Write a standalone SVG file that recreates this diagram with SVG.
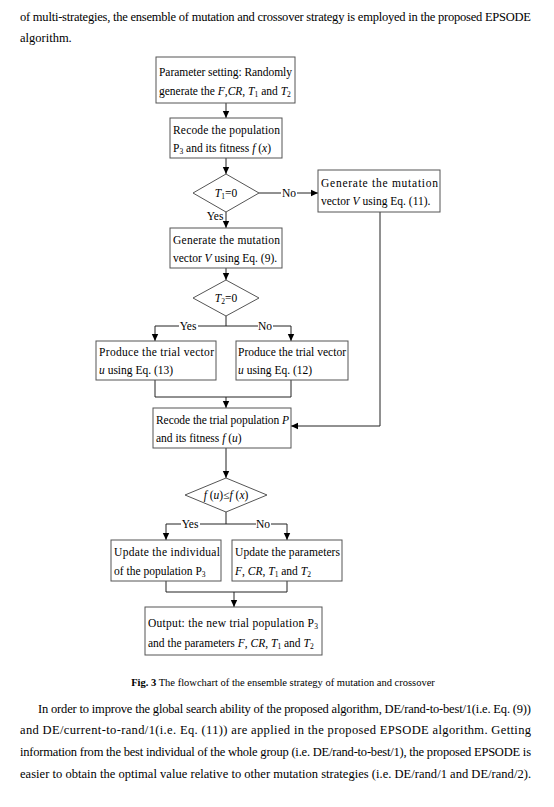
<svg xmlns="http://www.w3.org/2000/svg" width="554" height="807" viewBox="0 0 554 807">
<defs>
<marker id="ah" markerWidth="8" markerHeight="8" refX="7" refY="4" orient="auto" markerUnits="userSpaceOnUse">
<path d="M0,0.8 L7,4 L0,7.2 z" fill="#000"/>
</marker>
<style>
.t{font-family:"Liberation Serif","Times New Roman",serif;font-size:11.5px;fill:#000}
.b{font-family:"Liberation Serif","Times New Roman",serif;font-size:12.5px;fill:#000}
.c{font-family:"Liberation Serif","Times New Roman",serif;font-size:10.5px;fill:#000}
.box{fill:#fff;stroke:#555;stroke-width:1}
.ln{fill:none;stroke:#222;stroke-width:1}
.i{font-style:italic}
.s{font-size:7.5px}
</style>
</defs>
<rect width="554" height="807" fill="#fff"/>

<g id="para-top">
<text class="b" x="20" y="21" textLength="511" lengthAdjust="spacing">of multi-strategies, the ensemble of mutation and crossover strategy is employed in the proposed EPSODE</text>
<text class="b" x="20" y="42">algorithm.</text>
</g>

<g id="connectors">
<line class="ln" x1="226" y1="103" x2="226" y2="118" marker-end="url(#ah)"/>
<line class="ln" x1="226" y1="158" x2="226" y2="174" marker-end="url(#ah)"/>
<polyline class="ln" points="259,193 281,193"/>
<line class="ln" x1="297" y1="193" x2="318" y2="193" marker-end="url(#ah)"/>
<line class="ln" x1="226" y1="212" x2="226" y2="228" marker-end="url(#ah)"/>
<line class="ln" x1="226" y1="268" x2="226" y2="280" marker-end="url(#ah)"/>
<line class="ln" x1="226" y1="316" x2="226" y2="326"/>
<polyline class="ln" points="179,326 155,326 155,341" marker-end="url(#ah)"/>
<line class="ln" x1="198" y1="326" x2="258" y2="326"/>
<polyline class="ln" points="273,326 291,326 291,341" marker-end="url(#ah)"/>
<polyline class="ln" points="155,380 155,397 291,397 291,380"/>
<line class="ln" x1="226" y1="397" x2="226" y2="408" marker-end="url(#ah)"/>
<polyline class="ln" points="380,211 380,426 291,426" marker-end="url(#ah)"/>
<line class="ln" x1="226" y1="448" x2="226" y2="478" marker-end="url(#ah)"/>
<line class="ln" x1="226" y1="512" x2="226" y2="524"/>
<polyline class="ln" points="181,524 166,524 166,540" marker-end="url(#ah)"/>
<line class="ln" x1="200" y1="524" x2="256" y2="524"/>
<polyline class="ln" points="271,524 287,524 287,540" marker-end="url(#ah)"/>
<polyline class="ln" points="166,581 166,592 287,592 287,581"/>
<line class="ln" x1="234" y1="592" x2="234" y2="607" marker-end="url(#ah)"/>
<text class="t" x="289" y="197" text-anchor="middle">No</text>
<text class="t" x="215" y="220" text-anchor="middle">Yes</text>
<text class="t" x="188" y="330" text-anchor="middle">Yes</text>
<text class="t" x="265" y="330" text-anchor="middle">No</text>
<text class="t" x="190" y="528" text-anchor="middle">Yes</text>
<text class="t" x="263" y="528" text-anchor="middle">No</text>
</g>

<g id="n1">
<rect class="box" x="156" y="57" width="139" height="46"/>
<text class="t" x="159" y="76" textLength="133" lengthAdjust="spacing">Parameter setting: Randomly</text>
<text class="t" x="159" y="95">generate the <tspan class="i">F</tspan>,<tspan class="i">CR</tspan>, <tspan class="i">T</tspan><tspan class="s" dy="2">1</tspan><tspan dy="-2"> and </tspan><tspan class="i">T</tspan><tspan class="s" dy="2">2</tspan></text>
</g>

<g id="n2">
<rect class="box" x="170" y="118" width="112" height="40"/>
<text class="t" x="173" y="134" textLength="107" lengthAdjust="spacing">Recode the population</text>
<text class="t" x="173" y="152">P<tspan class="s" dy="2">3</tspan><tspan dy="-2"> and its fitness </tspan><tspan class="i">f</tspan> (<tspan class="i">x</tspan>)</text>
</g>

<g id="d1">
<polygon class="box" points="226,174 259,193 226,212 193,193"/>
<text class="t" x="226" y="197" text-anchor="middle"><tspan class="i">T</tspan><tspan class="s" dy="2">1</tspan><tspan dy="-2">=0</tspan></text>
</g>

<g id="n3">
<rect class="box" x="318" y="170" width="122" height="42"/>
<text class="t" x="321" y="187" textLength="117" lengthAdjust="spacing">Generate the mutation</text>
<text class="t" x="321" y="205">vector <tspan class="i">V</tspan> using Eq. (11).</text>
</g>

<g id="n4">
<rect class="box" x="170" y="228" width="112" height="40"/>
<text class="t" x="173" y="244" textLength="107" lengthAdjust="spacing">Generate the mutation</text>
<text class="t" x="173" y="262">vector <tspan class="i">V</tspan> using Eq. (9).</text>
</g>

<g id="d2">
<polygon class="box" points="226,280 259,298 226,316 193,298"/>
<text class="t" x="226" y="302" text-anchor="middle"><tspan class="i">T</tspan><tspan class="s" dy="2">2</tspan><tspan dy="-2">=0</tspan></text>
</g>

<g id="n5">
<rect class="box" x="96" y="341" width="120" height="39"/>
<text class="t" x="99" y="356" textLength="115" lengthAdjust="spacing">Produce the trial vector</text>
<text class="t" x="99" y="374"><tspan class="i">u</tspan> using Eq. (13)</text>
</g>

<g id="n6">
<rect class="box" x="236" y="341" width="112" height="39"/>
<text class="t" x="238" y="356" textLength="108" lengthAdjust="spacing">Produce the trial vector</text>
<text class="t" x="238" y="374"><tspan class="i">u</tspan> using Eq. (12)</text>
</g>

<g id="n7">
<rect class="box" x="153" y="408" width="138" height="40"/>
<text class="t" x="156" y="424" textLength="133" lengthAdjust="spacing">Recode the trial population <tspan class="i">P</tspan></text>
<text class="t" x="156" y="442">and its fitness <tspan class="i">f</tspan> (<tspan class="i">u</tspan>)</text>
</g>

<g id="d3">
<polygon class="box" points="226,478 267,495 226,512 185,495"/>
<text class="t" x="226" y="499" text-anchor="middle"><tspan class="i">f</tspan> (<tspan class="i">u</tspan>)≤<tspan class="i">f</tspan> (<tspan class="i">x</tspan>)</text>
</g>

<g id="n8">
<rect class="box" x="111" y="540" width="110" height="41"/>
<text class="t" x="114" y="556" textLength="106" lengthAdjust="spacing">Update the individual</text>
<text class="t" x="114" y="575">of the population P<tspan class="s" dy="2">3</tspan></text>
</g>

<g id="n9">
<rect class="box" x="232" y="540" width="110" height="41"/>
<text class="t" x="235" y="556" textLength="105" lengthAdjust="spacing">Update the parameters</text>
<text class="t" x="235" y="575"><tspan class="i">F</tspan>, <tspan class="i">CR</tspan>, <tspan class="i">T</tspan><tspan class="s" dy="2">1</tspan><tspan dy="-2"> and </tspan><tspan class="i">T</tspan><tspan class="s" dy="2">2</tspan></text>
</g>

<g id="n10">
<rect class="box" x="145" y="607" width="177" height="48"/>
<text class="t" x="148" y="627" textLength="170" lengthAdjust="spacing">Output: the new trial population P<tspan class="s" dy="2">3</tspan></text>
<text class="t" x="148" y="647">and the parameters <tspan class="i">F</tspan>, <tspan class="i">CR</tspan>, <tspan class="i">T</tspan><tspan class="s" dy="2">1</tspan><tspan dy="-2"> and </tspan><tspan class="i">T</tspan><tspan class="s" dy="2">2</tspan></text>
</g>

<g id="caption">
<text class="c" x="283" y="686" text-anchor="middle"><tspan font-weight="bold">Fig. 3</tspan> The flowchart of the ensemble strategy of mutation and crossover</text>
</g>

<g id="para-bottom">
<text class="b" x="38" y="713" textLength="493" lengthAdjust="spacing">In order to improve the global search ability of the proposed algorithm, DE/rand-to-best/1(i.e. Eq. (9))</text>
<text class="b" x="20" y="734" textLength="511" lengthAdjust="spacing">and DE/current-to-rand/1(i.e. Eq. (11)) are applied in the proposed EPSODE algorithm. Getting</text>
<text class="b" x="20" y="756" textLength="511" lengthAdjust="spacing">information from the best individual of the whole group (i.e. DE/rand-to-best/1), the proposed EPSODE is</text>
<text class="b" x="20" y="778" textLength="511" lengthAdjust="spacing">easier to obtain the optimal value relative to other mutation strategies (i.e. DE/rand/1 and DE/rand/2).</text>
</g>
</svg>
